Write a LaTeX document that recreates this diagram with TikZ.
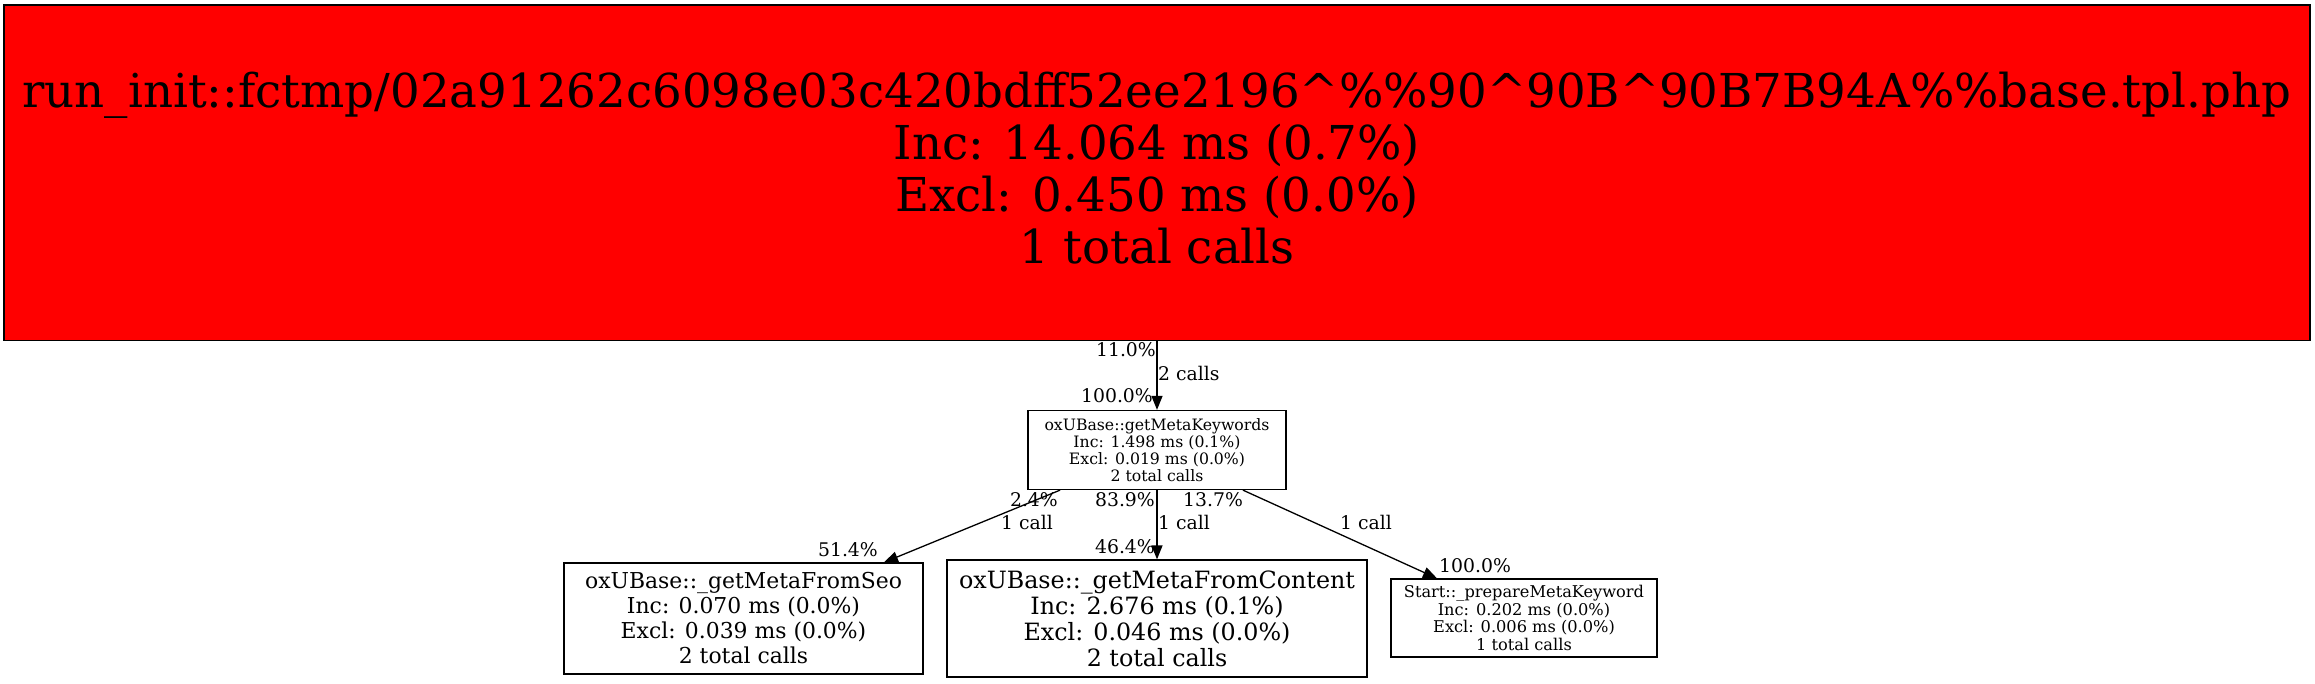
\documentclass[tikz,border=0pt]{standalone}
\usepackage{fontspec}
\setmainfont{DejaVu Serif}
\usetikzlibrary{arrows.meta,calc}
\begin{document}
\begin{tikzpicture}[x=1pt,y=-1pt,
  box/.style={draw, line width=1.3pt, inner sep=0pt, align=center, anchor=center},
  txt/.style={inner sep=0pt, align=center, anchor=center},
  edge/.style={line width=1.3pt, -{Triangle[length=14pt,width=11pt]}},
  elab/.style={inner sep=0pt, font=\fontsize{18.8}{21}\selectfont}]
\useasboundingbox (0,0) rectangle (2315,683);
\node[box, fill=red, minimum width=2306pt, minimum height=335.5pt] (top) at (1157,172.75) {};
\node[txt, font=\fontsize{46.7}{52}\selectfont, yshift=5pt] (toptext) at (top.center)
  {run\_init::fctmp/02a91262c6098e03c420bdff52ee2196\textasciicircum\%\%90\textasciicircum 90B\textasciicircum 90B7B94A\%\%base.tpl.php\\
   Inc: 14.064 ms (0.7\%)\\ Excl: 0.450 ms (0.0\%)\\ 1 total calls};
\node[box, minimum width=258pt, minimum height=79pt,
  font=\fontsize{15.7}{17}\selectfont] (mid) at (1157,450)
  {oxUBase::getMetaKeywords\\ Inc: 1.498 ms (0.1\%)\\ Excl: 0.019 ms (0.0\%)\\ 2 total calls};
\node[box, minimum width=359pt, minimum height=111pt,
  font=\fontsize{21.9}{25}\selectfont] (seo) at (743.5,618.5)
  {oxUBase::\_getMetaFromSeo\\ Inc: 0.070 ms (0.0\%)\\ Excl: 0.039 ms (0.0\%)\\ 2 total calls};
\node[box, minimum width=420pt, minimum height=117pt,
  font=\fontsize{23.8}{26}\selectfont] (content) at (1157,618.5)
  {oxUBase::\_getMetaFromContent\\ Inc: 2.676 ms (0.1\%)\\ Excl: 0.046 ms (0.0\%)\\ 2 total calls};
\node[box, minimum width=266pt, minimum height=78pt,
  font=\fontsize{16.2}{17.5}\selectfont] (prep) at (1524,618)
  {Start::\_prepareMetaKeyword\\ Inc: 0.202 ms (0.0\%)\\ Excl: 0.006 ms (0.0\%)\\ 1 total calls};

\draw[edge] (top.south) -- (mid.north);
\draw[edge] ($(mid.south)+(-97,0)$) -- ($(seo.north)+(140.5,0)$);
\draw[edge] (mid.south) -- (content.north);
\draw[edge] ($(mid.south)+(86,0)$) -- ($(prep.north)+(-87,0)$);

\node[elab, anchor=base east] (l1) at (1156,356) {11.0\%};
\node[elab, anchor=base west] (l2) at (1158,380) {2 calls};
\node[elab, anchor=base east] (l3) at (1153,402) {100.0\%};
\node[elab, anchor=base east] (l4) at (1058,506) {2.4\%};
\node[elab, anchor=base] (l5) at (1027,529) {1 call};
\node[elab, anchor=base east] (l6) at (878,556) {51.4\%};
\node[elab, anchor=base east] (l7) at (1155,506) {83.9\%};
\node[elab, anchor=base west] (l8) at (1158,529) {1 call};
\node[elab, anchor=base east] (l9) at (1155,553) {46.4\%};
\node[elab, anchor=base west] (l10) at (1183,506) {13.7\%};
\node[elab, anchor=base west] (l11) at (1340,529) {1 call};
\node[elab, anchor=base west] (l12) at (1439,572) {100.0\%};
\end{tikzpicture}
\end{document}
